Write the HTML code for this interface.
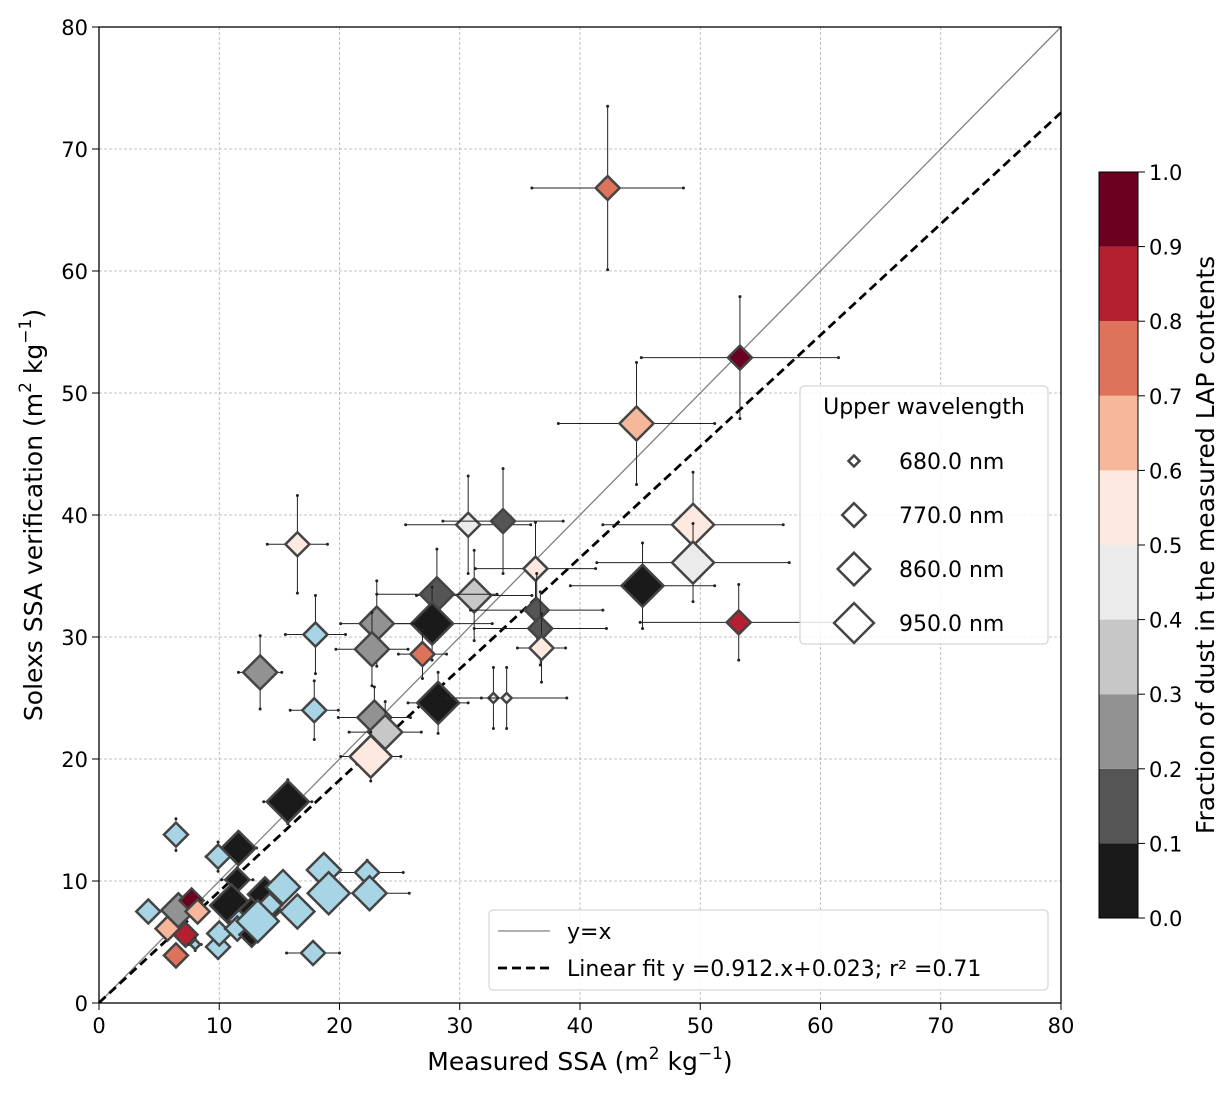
<!DOCTYPE html>
<html><head><meta charset="utf-8"><style>
body{margin:0;background:#fff;}
svg text{font-family:"DejaVu Sans","Liberation Sans",sans-serif;fill:#000;}
</style></head><body>
<svg id="chart" width="1232" height="1094" xmlns="http://www.w3.org/2000/svg">
<g id="grid"></g>
<g id="lines"></g>
<g id="pts"></g>
<rect x="99" y="27" width="962" height="976" fill="none" stroke="#000" stroke-width="1.3"/>
<g id="ticks"></g>
<text x="580" y="1070" font-size="25" text-anchor="middle">Measured SSA (m<tspan dy="-11" font-size="17">2</tspan><tspan dy="11"> kg</tspan><tspan dy="-11" font-size="17">−1</tspan><tspan dy="11">)</tspan></text>
<text transform="translate(42,515) rotate(-90)" font-size="25" text-anchor="middle">Solexs SSA verification (m<tspan dy="-11" font-size="17">2</tspan><tspan dy="11"> kg</tspan><tspan dy="-11" font-size="17">−1</tspan><tspan dy="11">)</tspan></text>
<g id="cbar"></g>
<text transform="translate(1214,545) rotate(-90)" font-size="25" text-anchor="middle">Fraction of dust in the measured LAP contents</text>
<g>
<rect x="800" y="386" width="248" height="258" rx="4" fill="#fff" fill-opacity="0.85" stroke="#ccc"/>
<text x="924" y="414" font-size="22" text-anchor="middle">Upper wavelength</text>
<g id="sleg"></g>
</g>
<g>
<rect x="489" y="910" width="559" height="80" rx="4" fill="#fff" fill-opacity="0.85" stroke="#ccc"/>
<line x1="498" y1="931" x2="550" y2="931" stroke="#808080" stroke-width="1.3"/>
<text x="567" y="939" font-size="22">y=x</text>
<line x1="498" y1="968" x2="550" y2="968" stroke="#000" stroke-width="2.8" stroke-dasharray="9,5"/>
<text x="567" y="976" font-size="22">Linear fit y =0.912.x+0.023; r² =0.71</text>
</g>
</svg>
<script>
const xs=[42.3,53.3,44.7,49.4,49.4,45.2,53.2,16.5,30.7,33.6,36.3,31.2,36.4,36.7,36.8,28.1,27.7,23.1,22.7,26.9,18.0,13.4,28.2,32.8,33.9,17.9,22.9,23.8,22.6,15.7,11.6,6.4,9.9,22.3,22.5,18.7,19.1,17.8,4.1,6.6,5.7,6.4,7.2,7.7,8.2,8.0,9.9,10.0,11.5,11.0,11.8,11.5,12.7,13.4,13.8,14.2,15.3,16.5,13.2];
const ys=[66.8,52.9,47.5,39.2,36.1,34.2,31.2,37.6,39.2,39.5,35.6,33.4,32.2,30.7,29.1,33.5,31.1,31.1,29.0,28.6,30.2,27.1,24.6,25.0,25.0,24.0,23.4,22.2,20.2,16.5,12.7,13.8,12.0,10.7,9.0,10.9,9.0,4.1,7.5,7.6,6.1,3.9,5.6,8.4,7.5,4.8,4.6,5.7,10.1,8.0,6.8,6.1,5.6,7.6,8.9,8.0,9.5,7.5,6.7];
const dust=[0.75,0.95,0.65,0.55,0.45,0.05,0.85,0.55,0.45,0.15,0.55,0.35,0.15,0.15,0.55,0.15,0.05,0.25,0.25,0.75,-1,0.25,0.05,0.45,0.45,-1,0.25,0.35,0.55,0.05,0.05,-1,-1,-1,-1,-1,-1,-1,-1,0.25,0.65,0.75,0.85,0.95,0.65,-1,-1,-1,0.05,0.05,-1,-1,0.05,0.05,0.05,-1,-1,-1,-1];
const wav=[770,770,860,950,950,950,770,770,770,770,770,860,770,770,770,860,950,860,860,770,770,860,950,680,680,770,860,860,950,950,860,770,770,770,860,860,950,770,770,860,770,770,770,770,770,680,770,770,770,950,770,770,770,950,860,770,860,860,950];
const xerr=[6.3,8.2,6.5,7.5,8,6,8.2,2.5,5.2,5,5,4.8,5.5,5.5,2,5,5,3,3,2,2.5,1.8,2.5,1,5,2,3,3,2.5,2,1.5,0.5,1,3,3.3,1,1,2.2,0.5,0.5,0.5,0.5,0.5,0.5,0.5,0.5,0.5,0.5,1.3,1,1,1,1,1,1,1,1,1,1];
const yerr=[6.7,5,5,4.3,3.2,3.5,3.1,4,4,4.3,3.8,3.7,3,3,2.8,3.7,3,3.5,3,2,3.2,3,2.5,2.5,2.5,2.4,2.5,2.5,2,1.8,1.2,1.3,1.2,1,1,1,1,0.5,0.5,0.5,0.5,0.5,0.5,0.5,0.5,0.5,0.5,0.5,1,0.8,0.5,0.5,0.5,0.5,0.5,0.5,0.5,0.5,0.5];
const cbColors=["#1a1a1a","#555555","#929292","#c7c7c7","#ebebeb","#fde9df","#f6b79b","#de735c","#b4202f","#6b0020"];
const tickVals=[0,10,20,30,40,50,60,70,80];
const cbTicks=["0.0","0.1","0.2","0.3","0.4","0.5","0.6","0.7","0.8","0.9","1.0"];
const legWav=[680,770,860,950];
const NS="http://www.w3.org/2000/svg";
const X=v=>99+v*962/80, Y=v=>1003-v*976/80;
const R=w=>({680:5,770:12,860:17,950:21}[w]);
function mk(t,a,p){const e=document.createElementNS(NS,t);for(const k in a)e.setAttribute(k,a[k]);p.appendChild(e);return e;}
const grid=document.getElementById('grid'),ticks=document.getElementById('ticks');
tickVals.forEach(v=>{
 const gx=mk('line',{x1:X(v),x2:X(v),y1:27,y2:1003,stroke:'#b0b0b0','stroke-width':0.8,'stroke-dasharray':'3,2'},grid);
 
 
 const gy=mk('line',{x1:99,x2:1061,y1:Y(v),y2:Y(v),stroke:'#b0b0b0','stroke-width':0.8,'stroke-dasharray':'3,2'},grid);
 
 
 mk('line',{x1:X(v),x2:X(v),y1:1003,y2:1010,stroke:'#000'},ticks);
 mk('line',{x1:92,x2:99,y1:Y(v),y2:Y(v),stroke:'#000'},ticks);
 const tx=mk('text',{x:X(v),y:1033,'font-size':21,'text-anchor':'middle'},ticks);tx.textContent=v;
 
 
 const ty=mk('text',{x:88,y:Y(v)+8,'font-size':21,'text-anchor':'end'},ticks);ty.textContent=v;
 
 
});
const lines=document.getElementById('lines');
mk('line',{x1:X(0),y1:Y(0),x2:X(80),y2:Y(80),stroke:'#808080','stroke-width':1.3},lines);
mk('line',{x1:X(0),y1:Y(0.023),x2:X(80),y2:Y(0.912*80+0.023),stroke:'#000','stroke-width':2.8,'stroke-dasharray':'9,5'},lines);
const pts=document.getElementById('pts');
xs.forEach((_,i)=>{
 const g=mk('g',{},pts);
 
 
 const cx=X(xs[i]),cy=Y(ys[i]),r=R(wav[i]);
 mk('line',{x1:X(xs[i]-xerr[i]),x2:X(xs[i]+xerr[i]),y1:cy,y2:cy,stroke:'#222','stroke-width':1},g);
 mk('line',{x1:cx,x2:cx,y1:Y(ys[i]-yerr[i]),y2:Y(ys[i]+yerr[i]),stroke:'#222','stroke-width':1},g);
 [[X(xs[i]-xerr[i]),cy],[X(xs[i]+xerr[i]),cy],[cx,Y(ys[i]-yerr[i])],[cx,Y(ys[i]+yerr[i])]].forEach(p=>mk('circle',{cx:p[0],cy:p[1],r:1.5,fill:'#222'},g));
 const col=dust[i]<0?'#a8d5e5':cbColors[Math.min(9,Math.floor(dust[i]*10))];
 mk('polygon',{points:`${cx},${cy-r} ${cx+r},${cy} ${cx},${cy+r} ${cx-r},${cy}`,fill:col,stroke:'#444','stroke-width':2.5},g);
});
const cb=document.getElementById('cbar');
cbColors.forEach((c,k)=>{
 const top=918-(k+1)*74.6;
 const s=mk('rect',{x:1099,y:top,width:39,height:74.6,fill:c},cb);
 
 
});
mk('rect',{x:1099,y:172,width:39,height:746,fill:'none',stroke:'#000'},cb);
cbTicks.forEach((t,k)=>{
 const yy=918-k*74.6;
 mk('line',{x1:1138,x2:1145,y1:yy,y2:yy,stroke:'#000'},cb);
 const tt=mk('text',{x:1149,y:yy+8,'font-size':21},cb);tt.textContent=t;
 
 
});
const sleg=document.getElementById('sleg');
legWav.forEach((w,k)=>{
 const cy=461+k*54,cx=854,r=R(w)*0.9+1;
 const g=mk('g',{},sleg);
 
 
 mk('polygon',{points:`${cx},${cy-r} ${cx+r},${cy} ${cx},${cy+r} ${cx-r},${cy}`,fill:'#fff',stroke:'#444','stroke-width':2.5},g);
 const t=mk('text',{x:899,y:cy+8,'font-size':22},g);t.textContent=w.toFixed(1)+' nm';
});
</script>
</body></html>
